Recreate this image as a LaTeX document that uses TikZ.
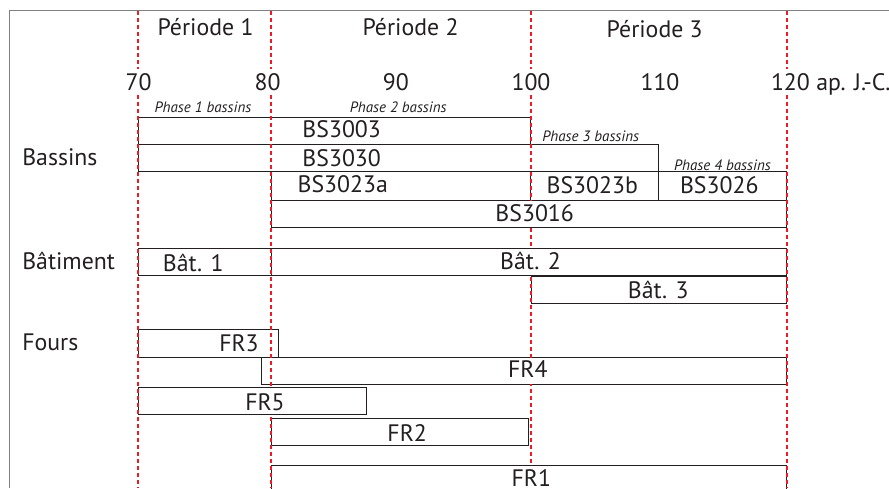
\documentclass[tikz,border=0pt]{standalone}
\usepackage{fontspec}
\setmainfont{PT Sans}
\definecolor{ink}{HTML}{231F20}
\definecolor{redline}{HTML}{ED1C24}
\definecolor{framegrey}{HTML}{808080}
\begin{document}
\begin{tikzpicture}[x=1pt,y=-1pt,
  every node/.style={inner sep=0pt, outer sep=0pt, text=ink},
  bar/.style={draw=ink, line width=0.8pt},
  big/.style={font=\fontsize{23.8}{25}\selectfont},
  period/.style={big, anchor=base},
  tick/.style={big, anchor=base, fill=white, inner xsep=1pt, text height=22pt, text depth=4pt},
  phase/.style={anchor=base, font=\fontsize{15}{17}\selectfont\itshape},
  barlabel/.style={big, anchor=base},
  masked/.style 2 args={fill=white, inner xsep=1pt, text height=#1, text depth=#2},
  cat/.style={big, anchor=base west},
  guide/.style={draw=redline, line width=2pt, dash pattern=on 4pt off 3pt},
  framing/.style={draw=framegrey, line width=1.1pt}]
\useasboundingbox (0,0) rectangle (889,488);
\clip (0,0) rectangle (889,488);
% frame
\draw[framing] (889,10.5) -- (9.5,10.5) -- (9.5,488);
% bars : Bassins
\draw[bar] (138,117.3) rectangle (530.5,144.3);
\draw[bar] (138,144.3) rectangle (658,171.7);
\draw[bar] (271,171.7) rectangle (530.5,200);
\draw[bar] (530.5,171.7) rectangle (658,200);
\draw[bar] (658,171.7) rectangle (786.5,200);
\draw[bar] (271,200) rectangle (786.5,227.7);
% Batiment
\draw[bar] (138,248.3) rectangle (271,275);
\draw[bar] (271,248.3) rectangle (786.5,275);
\draw[bar] (531,276.7) rectangle (786.5,303.3);
% Fours
\draw[bar] (138,329.3) rectangle (278.3,357);
\draw[bar] (261.7,357) rectangle (786.5,384.3);
\draw[bar] (138,387.7) rectangle (366.7,414.7);
\draw[bar] (271,418.3) rectangle (528.3,445.7);
\draw[bar] (271,465.7) rectangle (786.5,500);
% red guide lines
\coordinate (g70top) at (138,10.5);
\coordinate (g70bot) at (138,488);
\coordinate (g80top) at (271,10.5);
\coordinate (g80bot) at (271,488);
\coordinate (g100top) at (530.5,10.5);
\coordinate (g100bot) at (530.5,488);
\coordinate (g120top) at (786.5,10.5);
\coordinate (g120bot) at (786.5,488);
\draw[guide] (g70top) -- (g70bot);
\draw[guide] (g80top) -- (g80bot);
\draw[guide] (g100top) -- (g100bot);
\draw[guide] (g120top) -- (g120bot);
% periods
\node[period] (p1) at (205.5,35.3) {Période 1};
\node[period] (p2) at (410.5,35.7) {Période 2};
\node[period] (p3) at (654.7,37.3) {Période 3};
% ticks
\node[tick] (t70) at (138.5,90.7) {70};
\node[tick] (t80) at (267.5,90.7) {80};
\node[tick] (t90) at (395.8,90.7) {90};
\node[tick] (t100) at (531,90.7) {100};
\node[tick] (t110) at (660,90.7) {110};
\node[tick, anchor=base west] (t120) at (770,90.7) {120 ap. J.-C.};
% phases
\node[phase] (ph1) at (203,112.7) {Phase 1 bassins};
\node[phase] (ph2) at (398.3,112.7) {Phase 2 bassins};
\node[phase] (ph3) at (590.8,141.7) {Phase 3 bassins};
\node[phase] (ph4) at (722.5,170) {Phase 4 bassins};
% categories
\node[cat] (cbas) at (22.3,165) {Bassins};
\node[cat] (cbat) at (22.3,269.3) {Bâtiment};
\node[cat] (cfour) at (22.3,350) {Fours};
% bar labels
\node[barlabel] (bs3003) at (341.7,137.7) {BS3003};
\node[barlabel] (bs3030) at (341.7,166) {BS3030};
\node[barlabel] (bs3023a) at (342.8,192.7) {BS3023a};
\node[barlabel] (bs3023b) at (592.3,193.3) {BS3023b};
\node[barlabel] (bs3026) at (719.3,193.3) {BS3026};
\node[barlabel, masked={21.2pt}{5.5pt}] (bs3016) at (534.7,221.7) {BS3016};
\node[barlabel] (bat1) at (193.3,271.7) {Bât. 1};
\node[barlabel, masked={20.5pt}{5.2pt}] (bat2) at (530.5,269.3) {Bât. 2};
\node[barlabel] (bat3) at (658.3,298.3) {Bât. 3};
\node[barlabel] (fr3) at (239,351.7) {FR3};
\node[barlabel, masked={19.8pt}{6.5pt}] (fr4) at (527.8,377.3) {FR4};
\node[barlabel, masked={21.8pt}{4.2pt}] (fr5) at (265,410) {FR5};
\node[barlabel] (fr2) at (407.2,441.7) {FR2};
\node[barlabel, masked={19.8pt}{5pt}] (fr1) at (531.3,486) {FR1};
\end{tikzpicture}
\end{document}
